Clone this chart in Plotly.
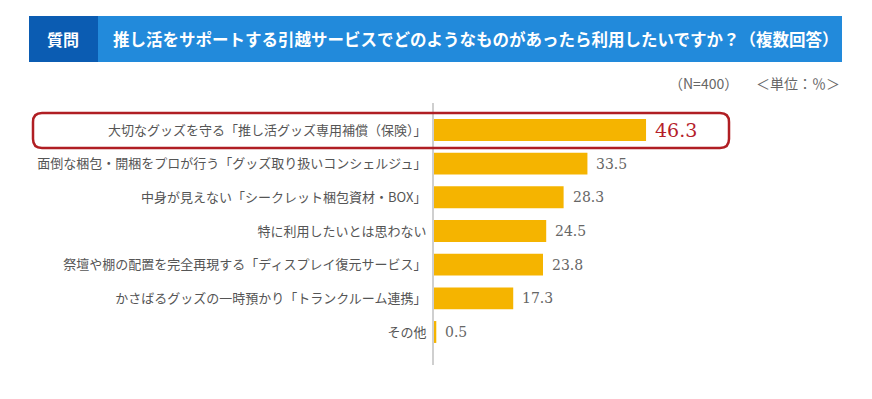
import plotly.graph_objects as go

categories = [
    "大切なグッズを守る「推し活グッズ専用補償（保険）」",
    "面倒な梱包・開梱をプロが行う「グッズ取り扱いコンシェルジュ」",
    "中身が見えない「シークレット梱包資材・BOX」",
    "特に利用したいとは思わない",
    "祭壇や棚の配置を完全再現する「ディスプレイ復元サービス」",
    "かさばるグッズの一時預かり「トランクルーム連携」",
    "その他",
]
values = [46.3, 33.5, 28.3, 24.5, 23.8, 17.3, 0.5]
value_labels = ["46.3", "33.5", "28.3", "24.5", "23.8", "17.3", "0.5"]

title_text = "推し活をサポートする引越サービスでどのようなものがあったら利用したいですか？（複数回答）"
badge_text = "質問"
note_n = "（N=400）"
note_unit = "＜単位：％＞"

OFF = 8  # page body margin
W, H = 872 - OFF, 399 - OFF
# plot area in reference-page px
L, R, T, B = 434, 842, 103, 365

def px(x):
    return (x - L) / (R - L)

def py(y):
    return (B - y) / (B - T)

bar_color = "#F5B400"
jp_font = "Noto Sans CJK JP"

fig = go.Figure()
fig.add_trace(go.Bar(
    x=values, y=categories, orientation="h",
    marker=dict(color=bar_color, line=dict(width=0)),
    width=0.65, hoverinfo="skip",
))

# value labels
for i, (v, lab) in enumerate(zip(values, value_labels)):
    hi = i == 0
    fig.add_annotation(
        x=v, y=categories[i], xref="x", yref="y", text=lab, showarrow=False,
        xanchor="left", xshift=7,
        font=dict(family="DejaVu Serif", size=19 if hi else 14,
                  color="#B5202A" if hi else "#666666"),
    )

shapes = []
# banner
shapes.append(dict(type="rect", xref="paper", yref="paper",
                   x0=px(29), x1=px(842), y0=py(62), y1=py(16),
                   fillcolor="#228ADB", line=dict(width=0), layer="above"))
shapes.append(dict(type="rect", xref="paper", yref="paper",
                   x0=px(29), x1=px(98), y0=py(62), y1=py(16),
                   fillcolor="#0B5CB2", line=dict(width=0), layer="above"))

# rounded highlight box
x0, x1, y0, y1, r = 33, 729, 113, 148, 9
def P(x, y):
    return f"{px(x):.5f},{py(y):.5f}"
path = (f"M {P(x0 + r, y0)} L {P(x1 - r, y0)} Q {P(x1, y0)} {P(x1, y0 + r)} "
        f"L {P(x1, y1 - r)} Q {P(x1, y1)} {P(x1 - r, y1)} "
        f"L {P(x0 + r, y1)} Q {P(x0, y1)} {P(x0, y1 - r)} "
        f"L {P(x0, y0 + r)} Q {P(x0, y0)} {P(x0 + r, y0)} Z")
shapes.append(dict(type="path", xref="paper", yref="paper", path=path,
                   line=dict(color="#B01E23", width=2.5), layer="above"))

annotations = [
    dict(x=px(63), y=py(39), text=f"<b>{badge_text}</b>", xanchor="center",
         font=dict(family=jp_font, size=16, color="white")),
    dict(x=px(111), y=py(39), text=f"<b>{title_text}</b>", xanchor="left",
         font=dict(family=jp_font, size=16.5, color="white")),
    dict(x=px(740), y=py(83), text=note_n, xanchor="right",
         font=dict(family=jp_font, size=14, color="#666666")),
    dict(x=px(842), y=py(83), text=note_unit, xanchor="right",
         font=dict(family=jp_font, size=14, color="#666666")),
]
for a in annotations:
    fig.add_annotation(xref="paper", yref="paper", showarrow=False,
                       yanchor="middle", **a)

fig.update_layout(
    width=W, height=H,
    margin=dict(l=L - OFF, r=872 - R, t=T - OFF, b=399 - B, pad=0),
    paper_bgcolor="white", plot_bgcolor="white",
    showlegend=False,
    shapes=shapes,
    xaxis=dict(range=[0, (R - L) / 4.58], visible=False, fixedrange=True),
    yaxis=dict(
        type="category", range=[6.98, -0.8],
        showline=True, linecolor="#CFCFCF", linewidth=2,
        showgrid=False, zeroline=False, ticks="",
        ticklabelstandoff=3,
        tickfont=dict(family=jp_font, size=13, color="#555555"),
        fixedrange=True,
    ),
    font=dict(family=jp_font),
)

fig.write_html("out.html")
